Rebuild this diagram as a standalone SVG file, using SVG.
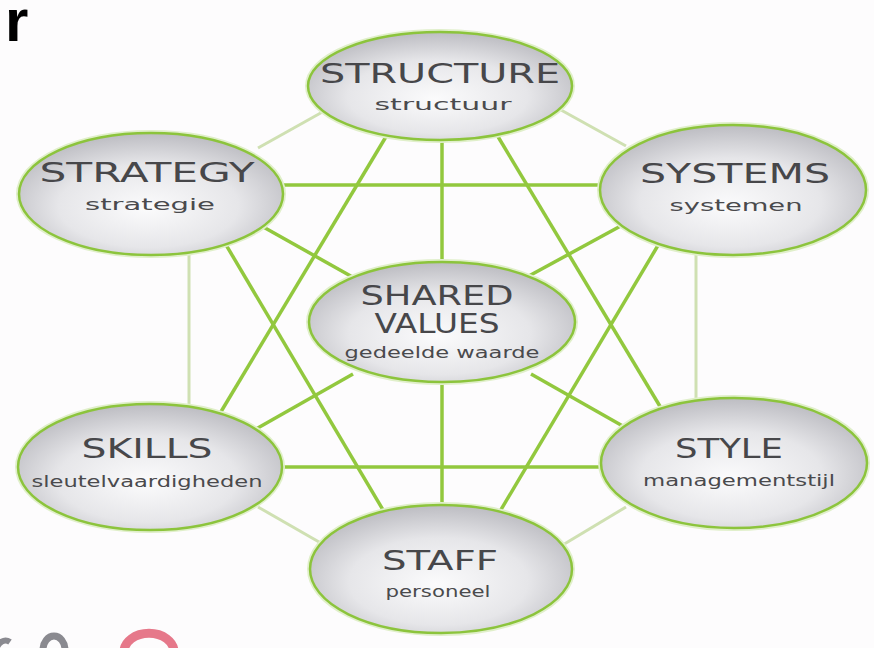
<svg xmlns="http://www.w3.org/2000/svg" width="874" height="648" viewBox="0 0 874 648">
<style>
.bg{fill:#fdfcfd}
.bright{stroke:#92c83e;stroke-width:3.5;stroke-linecap:butt;fill:none}
.pale{stroke:#cfe0b2;stroke-width:3;fill:none}
.glow{fill:none;stroke:#e0efca;stroke-width:6}
.node{fill:url(#g);stroke:#8cc43c;stroke-width:2.5}
.t{font-family:"DejaVu Sans",sans-serif;font-size:27px;fill:#47474a;text-anchor:middle}
.s{font-family:"DejaVu Sans",sans-serif;font-size:15px;fill:#4a4a4d;text-anchor:middle}
</style>
<defs>
<radialGradient id="g" cx="50%" cy="58%" r="62%" fx="48%" fy="62%">
<stop offset="0" stop-color="#fbfbfc"/>
<stop offset="0.55" stop-color="#e6e6e9"/>
<stop offset="1" stop-color="#b6b6bc"/>
</radialGradient>
</defs>
<rect class="bg" width="874" height="648"/>
<text x="5" y="41" font-family="Liberation Sans,Arial,sans-serif" font-weight="bold" font-size="60" fill="#000">r</text>
<g id="fragments" fill="none">
<path d="M-4,650 A10,14 0 0 1 10,642" stroke="#8a8a90" stroke-width="6"/>
<path d="M43,650 A11,14 0 0 1 65,650" stroke="#8a8a90" stroke-width="7"/>
<path d="M124,652 A24,18 0 0 1 174,652" stroke="#e6788a" stroke-width="9"/>
</g>
<g id="connectors">
<line class="pale" x1="258" y1="148" x2="326" y2="110"/>
<line class="pale" x1="561" y1="110" x2="626" y2="146"/>
<line class="pale" x1="189" y1="240" x2="189" y2="420"/>
<line class="pale" x1="696" y1="240" x2="696" y2="415"/>
<line class="pale" x1="258" y1="507" x2="326" y2="546"/>
<line class="pale" x1="561" y1="546" x2="626" y2="507"/>
<line class="bright" x1="390" y1="130" x2="219" y2="415"/>
<line class="bright" x1="494" y1="130" x2="664" y2="413"/>
<line class="bright" x1="219" y1="233" x2="389" y2="520"/>
<line class="bright" x1="663" y1="237" x2="496" y2="518"/>
<line class="bright" x1="270" y1="185" x2="615" y2="185"/>
<line class="bright" x1="270" y1="467" x2="615" y2="467"/>
<line class="bright" x1="442" y1="130" x2="442" y2="275"/>
<line class="bright" x1="442" y1="370" x2="442" y2="515"/>
<line class="bright" x1="258" y1="224" x2="356" y2="279"/>
<line class="bright" x1="628" y1="222" x2="527" y2="277"/>
<line class="bright" x1="256" y1="429" x2="353" y2="374"/>
<line class="bright" x1="628" y1="429" x2="531" y2="374"/>
</g>
<g id="structure">
<ellipse class="glow" cx="440" cy="86" rx="132" ry="54"/>
<ellipse class="node" cx="440" cy="86" rx="132" ry="54"/>
<text class="t" x="440" y="83" textLength="240" lengthAdjust="spacingAndGlyphs">STRUCTURE</text>
<text class="s" x="443" y="110" textLength="137" lengthAdjust="spacingAndGlyphs">structuur</text>
</g>
<g id="strategy">
<ellipse class="glow" cx="151" cy="194" rx="132" ry="61"/>
<ellipse class="node" cx="151" cy="194" rx="132" ry="61"/>
<text class="t" x="147" y="182" textLength="215" lengthAdjust="spacingAndGlyphs">STRATEGY</text>
<text class="s" x="150" y="210" textLength="130" lengthAdjust="spacingAndGlyphs">strategie</text>
</g>
<g id="systems">
<ellipse class="glow" cx="733" cy="190" rx="133" ry="65"/>
<ellipse class="node" cx="733" cy="190" rx="133" ry="65"/>
<text class="t" x="735" y="183" textLength="190" lengthAdjust="spacingAndGlyphs">SYSTEMS</text>
<text class="s" x="736" y="211" textLength="133" lengthAdjust="spacingAndGlyphs">systemen</text>
</g>
<g id="shared-values">
<ellipse class="glow" cx="442" cy="322" rx="133" ry="60"/>
<ellipse class="node" cx="442" cy="322" rx="133" ry="60"/>
<text class="t" x="437" y="305" textLength="153" lengthAdjust="spacingAndGlyphs">SHARED</text>
<text class="t" x="437" y="333" textLength="125" lengthAdjust="spacingAndGlyphs">VALUES</text>
<text class="s" x="442" y="358" textLength="195" lengthAdjust="spacingAndGlyphs">gedeelde waarde</text>
</g>
<g id="skills">
<ellipse class="glow" cx="150" cy="467" rx="132" ry="63"/>
<ellipse class="node" cx="150" cy="467" rx="132" ry="63"/>
<text class="t" x="147" y="458" textLength="131" lengthAdjust="spacingAndGlyphs">SKILLS</text>
<text class="s" x="147" y="487" textLength="231" lengthAdjust="spacingAndGlyphs">sleutelvaardigheden</text>
</g>
<g id="style">
<ellipse class="glow" cx="734" cy="463" rx="133" ry="65"/>
<ellipse class="node" cx="734" cy="463" rx="133" ry="65"/>
<text class="t" x="729" y="458" textLength="108" lengthAdjust="spacingAndGlyphs">STYLE</text>
<text class="s" x="739" y="486" textLength="192" lengthAdjust="spacingAndGlyphs">managementstijl</text>
</g>
<g id="staff">
<ellipse class="glow" cx="441" cy="569" rx="131" ry="64"/>
<ellipse class="node" cx="441" cy="569" rx="131" ry="64"/>
<text class="t" x="440" y="570" textLength="116" lengthAdjust="spacingAndGlyphs">STAFF</text>
<text class="s" x="438" y="597" textLength="105" lengthAdjust="spacingAndGlyphs">personeel</text>
</g>
</svg>
